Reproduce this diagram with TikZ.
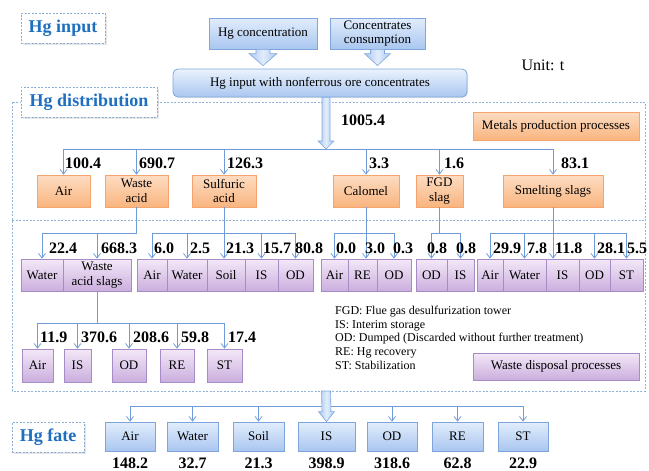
\documentclass[tikz,border=0pt]{standalone}
\usepackage{fontspec}
\setmainfont{Liberation Serif}
\usetikzlibrary{arrows.meta,shadows,calc}
\definecolor{lnC}{HTML}{6F9BD8}
\definecolor{bBd}{HTML}{7EA6DC}
\definecolor{bTop}{HTML}{E2EDFC}
\definecolor{bBot}{HTML}{A9C6F0}
\definecolor{oBd}{HTML}{F4A46C}
\definecolor{oTop}{HTML}{FDDCC2}
\definecolor{oBot}{HTML}{F9B57F}
\definecolor{pBd}{HTML}{A68CC4}
\definecolor{pTop}{HTML}{F3E8F8}
\definecolor{pBot}{HTML}{CBAEDD}
\definecolor{tagBd}{HTML}{8AAED8}
\definecolor{tagTx}{HTML}{1F6FC0}
\definecolor{regBd}{HTML}{93B3DA}
\newcommand\mybox[7]{\node[#1,minimum width={#4-#3},minimum height={#6-#5}] (#2) at ({(#3+#4)/2},{(#5+#6)/2}) {#7};}
\newcommand\blockarr[5]{\draw[blkarr] ($(#1)+(-#3,0)$) -- ($(#2)+(-#3,-#5)$) -- ($(#2)+(-#4,-#5)$) -- (#2) -- ($(#2)+(#4,-#5)$) -- ($(#2)+(#3,-#5)$) -- ($(#1)+(#3,0)$) -- cycle;}
\tikzset{
  base/.style={draw, rectangle, inner sep=1pt, align=center, font=\fontsize{13}{14.5}\selectfont, line width=0.8pt,
    drop shadow={opacity=0.18, shadow xshift=1pt, shadow yshift=-1pt}},
  bbox/.style={base, draw=bBd, top color=bTop, bottom color=bBot},
  obox/.style={base, draw=oBd, top color=oTop, bottom color=oBot},
  pbox/.style={base, draw=pBd, top color=pTop, bottom color=pBot},
  mainbox/.style={bbox, rounded corners=5pt, top color=bTop!70!white},
  tag/.style={draw=tagBd, line width=0.9pt, dash pattern=on 2pt off 1.5pt, fill=white, text=tagTx, inner sep=0,
    font=\fontsize{18}{20}\selectfont\bfseries, drop shadow={opacity=0.2, shadow xshift=1.5pt, shadow yshift=-1.5pt}},
  num/.style={font=\fontsize{16}{16}\selectfont\bfseries, inner sep=0, anchor=west},
  numc/.style={font=\fontsize{16}{16}\selectfont\bfseries, inner sep=0},
  ln/.style={draw=lnC, line width=0.8pt},
  arr/.style={ln, -{Straight Barb[length=4.5pt,width=7pt]}},
  region/.style={draw=regBd, line width=0.8pt, dash pattern=on 2pt off 1.5pt},
  leg/.style={font=\fontsize{12}{13.6}\selectfont, align=left, anchor=north west, inner sep=0},
  blkarr/.style={draw=bBd, line width=0.6pt, left color=bBot, right color=bBot, middle color=bTop}
}
\begin{document}
\begin{tikzpicture}[x=1pt,y=-1pt]
\useasboundingbox (0,0) rectangle (649,471);
% regions
\draw[region] (12,102) rectangle (645,391);
\draw[region] (12,220) -- (645,220);
% tags
\mybox{tag}{tin}{21}{105}{13}{43}{Hg input}
\mybox{tag}{tdist}{21}{157}{87}{117}{Hg distribution}
\mybox{tag}{tfate}{12}{84}{422}{452}{Hg fate}
% input
\mybox{bbox}{hgc}{209}{317}{18}{49}{Hg concentration}
\mybox{bbox}{cons}{330}{425}{18}{49}{Concentrates\\consumption}
\mybox{mainbox}{main}{173}{467}{69}{97}{Hg input with nonferrous ore concentrates}
\coordinate (hgcTip) at ($(hgc.south |- main.north)+(0,-3)$);
\coordinate (consTip) at ($(cons.south |- main.north)+(0,-3)$);
\blockarr{hgc.south}{hgcTip}{7}{14}{12}
\blockarr{cons.south}{consTip}{7}{13}{12}
\node[font=\fontsize{16}{18}\selectfont] (unit) at (543,65) {Unit: t};
% distribution top
\mybox{obox}{metals}{473}{639}{112}{140}{Metals production processes}
\coordinate (h0) at (0,149);
\coordinate (bigTop) at (326,149);
\mybox{obox}{air1}{37}{90}{175}{207}{Air}
\mybox{obox}{wacid}{105}{168}{175}{207}{Waste\\acid}
\mybox{obox}{sulf}{192}{256}{175}{207}{Sulfuric\\acid}
\mybox{obox}{calo}{333}{399}{175}{207}{Calomel}
\mybox{obox}{fgd}{416}{463}{175}{207}{FGD\\slag}
\mybox{obox}{smelt}{503}{603}{175}{207}{Smelting slags}
\draw[ln] (air1.north |- h0) -- (smelt.north |- h0);
\foreach \b in {air1,wacid,sulf,calo,fgd,smelt} \draw[arr] (\b.north |- h0) -- (\b.north);
\blockarr{main.south -| bigTop}{bigTop}{4}{8}{8}
\node[num] (tot) at (341,120) {1005.4};
\node[num] (v1) at (65,163) {100.4};
\node[num] (v2) at (139,163) {690.7};
\node[num] (v3) at (227,163) {126.3};
\node[num] (v4) at (369,163) {3.3};
\node[num] (v5) at (444,163) {1.6};
\node[num] (v6) at (561,163) {83.1};
% middle row
\coordinate (h1) at (0,233);
\mybox{pbox}{water1}{21}{63}{259}{291}{Water}
\mybox{pbox}{was}{63}{131}{259}{291}{Waste\\acid slags}
\mybox{pbox}{air2}{137}{167}{259}{291}{Air}
\mybox{pbox}{water2}{167}{207}{259}{291}{Water}
\mybox{pbox}{soil2}{207}{245}{259}{291}{Soil}
\mybox{pbox}{is2}{245}{278}{259}{291}{IS}
\mybox{pbox}{od2}{278}{313}{259}{291}{OD}
\mybox{pbox}{air3}{321}{348}{259}{291}{Air}
\mybox{pbox}{re3}{348}{377}{259}{291}{RE}
\mybox{pbox}{od3}{377}{411}{259}{291}{OD}
\mybox{pbox}{od4}{416}{447}{259}{291}{OD}
\mybox{pbox}{is4}{447}{474}{259}{291}{IS}
\mybox{pbox}{air5}{477}{503}{259}{291}{Air}
\mybox{pbox}{water5}{503}{546}{259}{291}{Water}
\mybox{pbox}{is5}{546}{579}{259}{291}{IS}
\mybox{pbox}{od5}{579}{610}{259}{291}{OD}
\mybox{pbox}{st5}{610}{643}{259}{291}{ST}
% group 1
\draw[ln] (wacid.south) -- (wacid.south |- h1) -- (water1.north |- h1);
\foreach \b in {water1,was} \draw[arr] (\b.north |- h1) -- (\b.north);
% group 2
\draw[ln] (air2.north |- h1) -- (od2.north |- h1);
\draw[arr] (sulf.south) -- (sulf.south |- soil2.north);
\foreach \b in {air2,water2,is2,od2} \draw[arr] (\b.north |- h1) -- (\b.north);
% group 3
\draw[ln] (air3.north |- h1) -- (od3.north |- h1);
\draw[arr] (calo.south) -- (calo.south |- re3.north);
\foreach \b in {air3,od3} \draw[arr] (\b.north |- h1) -- (\b.north);
% group 4
\draw[ln] (fgd.south) -- (fgd.south |- h1);
\draw[ln] (od4.north |- h1) -- (is4.north |- h1);
\foreach \b in {od4,is4} \draw[arr] (\b.north |- h1) -- (\b.north);
% group 5
\draw[ln] (air5.north |- h1) -- (st5.north |- h1);
\draw[arr] (smelt.south) -- (smelt.south |- is5.north);
\foreach \b in {air5,water5,od5,st5} \draw[arr] (\b.north |- h1) -- (\b.north);
% middle values
\node[num] (m1) at (49,248) {22.4};
\node[num] (m2) at (101,248) {668.3};
\node[num] (m3) at (154,248) {6.0};
\node[num] (m4) at (190,248) {2.5};
\node[num] (m5) at (226,248) {21.3};
\node[num] (m6) at (263,248) {15.7};
\node[num] (m7) at (295,248) {80.8};
\node[num] (m8) at (336,248) {0.0};
\node[num] (m9) at (365,248) {3.0};
\node[num] (m10) at (393,248) {0.3};
\node[num] (m11) at (427,248) {0.8};
\node[num] (m12) at (456,248) {0.8};
\node[num] (m13) at (493,248) {29.9};
\node[num] (m14) at (527,248) {7.8};
\node[num] (m15) at (555,248) {11.8};
\node[num] (m16) at (597,248) {28.1};
\node[num] (m17) at (627,248) {5.5};
% bottom row
\coordinate (h2) at (0,323);
\mybox{pbox}{air6}{22}{53}{349}{382}{Air}
\mybox{pbox}{is6}{64}{91}{349}{382}{IS}
\mybox{pbox}{od6}{112}{146}{349}{382}{OD}
\mybox{pbox}{re6}{160}{194}{349}{382}{RE}
\mybox{pbox}{st6}{207}{242}{349}{382}{ST}
\draw[ln] (was.south) -- (was.south |- h2);
\draw[ln] (air6.north |- h2) -- (st6.north |- h2);
\foreach \b in {air6,is6,od6,re6,st6} \draw[arr] (\b.north |- h2) -- (\b.north);
\node[num] (b1) at (40,337) {11.9};
\node[num] (b2) at (81,337) {370.6};
\node[num] (b3) at (133,337) {208.6};
\node[num] (b4) at (181,337) {59.8};
\node[num] (b5) at (228,337) {17.4};
% legend
\node[leg] (legend) at (335,306) {FGD: Flue gas desulfurization tower\\IS: Interim storage\\OD: Dumped (Discarded without further treatment)\\RE: Hg recovery\\ST: Stabilization};
\mybox{pbox}{wdp}{473}{639}{353}{380}{Waste disposal processes}
% fate
\coordinate (h3) at (0,406);
\mybox{bbox}{fair}{105}{155}{422}{451}{Air}
\mybox{bbox}{fwater}{167}{218}{422}{451}{Water}
\mybox{bbox}{fsoil}{233}{284}{422}{451}{Soil}
\mybox{bbox}{fis}{298}{355}{422}{451}{IS}
\mybox{bbox}{fod}{367}{417}{422}{451}{OD}
\mybox{bbox}{fre}{432}{483}{422}{451}{RE}
\mybox{bbox}{fst}{498}{548}{422}{451}{ST}
\draw[ln] (fair.north |- h3) -- (fst.north |- h3);
\foreach \b in {fair,fwater,fsoil,fod,fre,fst} \draw[arr] (\b.north |- h3) -- (\b.north);
\coordinate (regBot) at (326,391);
\blockarr{regBot}{fis.north}{4.5}{8}{10}
\node[numc] (f1) at ($(fair.south)+(0,12)$) {148.2};
\node[numc] (f2) at ($(fwater.south)+(0,12)$) {32.7};
\node[numc] (f3) at ($(fsoil.south)+(0,12)$) {21.3};
\node[numc] (f4) at ($(fis.south)+(0,12)$) {398.9};
\node[numc] (f5) at ($(fod.south)+(0,12)$) {318.6};
\node[numc] (f6) at ($(fre.south)+(0,12)$) {62.8};
\node[numc] (f7) at ($(fst.south)+(0,12)$) {22.9};
\end{tikzpicture}
\end{document}
